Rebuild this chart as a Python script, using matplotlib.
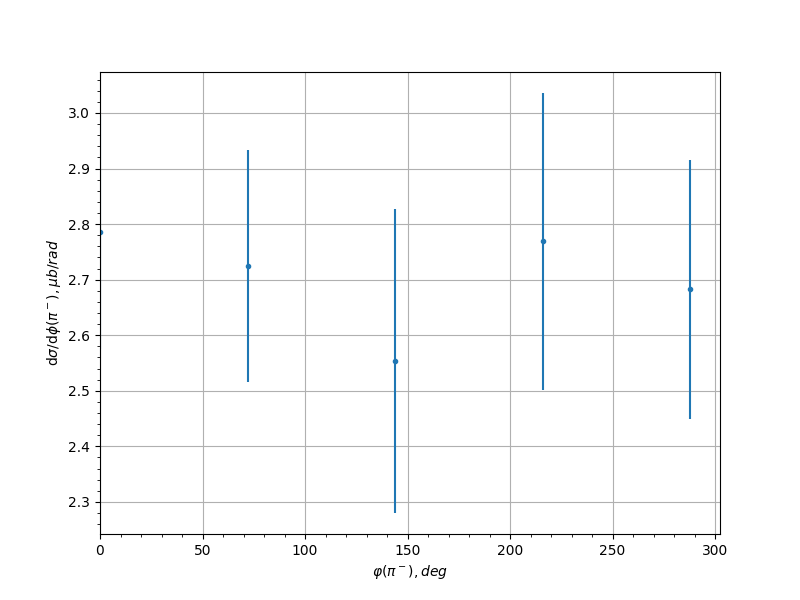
import matplotlib
matplotlib.use("Agg")
import matplotlib.pyplot as plt

phi = [0, 72, 144, 216, 288]
xsec = [2.786, 2.725, 2.554, 2.769, 2.683]
err = [0.21, 0.209, 0.274, 0.267, 0.233]

fig, ax = plt.subplots(figsize=(8, 6), dpi=100)
ax.errorbar(phi, xsec, yerr=err, fmt='o', markersize=3, color='#1f77b4')
ax.set_xlim(left=0)
ax.minorticks_on()
ax.grid(True, which='major')
ax.set_xlabel(r'$\varphi(\pi^-), deg$')
ax.set_ylabel(r'd$\sigma$/d$\phi(\pi^-), \mu b/rad$')
fig.savefig('out.png', dpi=100)
